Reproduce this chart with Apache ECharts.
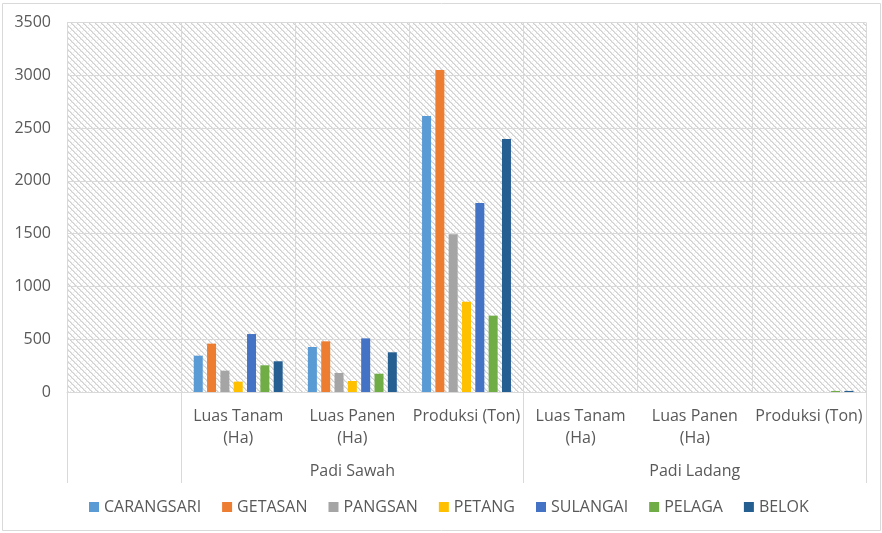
<!DOCTYPE html>
<html>
<head>
<meta charset="utf-8">
<script src="https://cdn.jsdelivr.net/npm/echarts@6/dist/echarts.min.js"></script>
<style>
  html, body { margin: 0; padding: 0; background: #fff; }
  #chart { width: 882px; height: 533px; }
</style>
</head>
<body>
<div id="chart"></div>
<script>
const categories = ["", "Luas Tanam\n(Ha)", "Luas Panen\n(Ha)", "Produksi (Ton)", "Luas Tanam\n(Ha)", "Luas Panen\n(Ha)", "Produksi (Ton)"];
const groups = ["Padi Sawah", "Padi Ladang"];
const groupCenters = [2.5, 5.5];
const groupBounds = [0, 1, 4, 7];

const villages = ["CARANGSARI", "GETASAN", "PANGSAN", "PETANG", "SULANGAI", "PELAGA", "BELOK"];
const colors = ["#5B9BD5", "#ED7D31", "#A5A5A5", "#FFC000", "#4472C4", "#70AD47", "#255E91"];

const carangsari = [null, 344, 426, 2614, 0, 0, 0];
const getasan    = [null, 458, 480, 3050, 0, 0, 0];
const pangsan    = [null, 202, 180, 1494, 0, 0, 0];
const petang     = [null, 98, 104, 855, 0, 0, 0];
const sulangai   = [null, 549, 508, 1790, 0, 0, 0];
const pelaga     = [null, 253, 173, 723, 0, 0, 10];
const belok      = [null, 291, 376, 2396, 0, 0, 10];
const values = [carangsari, getasan, pangsan, petang, sulangai, pelaga, belok];

const yTicks = [0, 500, 1000, 1500, 2000, 2500, 3000, 3500];

const textColor = "#595959";
const lineColor = "#d9d9d9";
const font = "Open Sans";

// hatched plot background, like the excel pattern fill
function hatch() {
  const c = document.createElement("canvas");
  c.width = 6;
  c.height = 6;
  const ctx = c.getContext("2d");
  ctx.fillStyle = "#ffffff";
  ctx.fillRect(0, 0, 6, 6);
  for (let i = 0; i < 6; i++) {
    ctx.fillStyle = "#cfcfcf";
    ctx.fillRect(i, i, 1, 1);
    ctx.fillStyle = "#e2e2e2";
    ctx.fillRect((i + 1) % 6, i, 1, 1);
    ctx.fillStyle = "#ececec";
    ctx.fillRect(5 - i, i, 1, 1);
  }
  return c;
}

const chart = echarts.init(document.getElementById("chart"), null, { renderer: "canvas" });

chart.setOption({
  animation: false,
  textStyle: { fontFamily: font },
  graphic: [{
    type: "rect",
    shape: { x: 2.5, y: 3.5, width: 878, height: 527 },
    style: { fill: "none", stroke: lineColor, lineWidth: 1 },
    silent: true,
    z: -10
  }],
  grid: {
    left: 67, right: 16, top: 22.5, bottom: 141,
    show: true,
    borderWidth: 0,
    backgroundColor: { image: hatch(), repeat: "repeat" }
  },
  legend: {
    bottom: 13,
    left: 84,
    itemWidth: 10,
    itemHeight: 10,
    itemGap: 21,
    icon: "rect",
    textStyle: { color: textColor, fontSize: 16, fontFamily: font },
    data: villages
  },
  xAxis: [
    {
      type: "category",
      data: categories,
      axisLine: { lineStyle: { color: lineColor } },
      axisTick: { show: false },
      splitLine: { show: true, interval: 0, lineStyle: { color: lineColor } },
      axisLabel: {
        interval: 0,
        color: textColor,
        fontSize: 16,
        lineHeight: 22,
        margin: 13
      }
    },
    {
      type: "value",
      position: "bottom",
      min: 0,
      max: 7,
      axisLine: { show: false },
      splitLine: { show: false },
      axisTick: {
        show: true,
        customValues: groupBounds,
        length: 91,
        lineStyle: { color: lineColor }
      },
      axisLabel: {
        customValues: groupCenters,
        formatter: (v) => groups[groupCenters.indexOf(v)] ?? "",
        color: textColor,
        fontSize: 16,
        margin: 71
      }
    }
  ],
  yAxis: {
    type: "value",
    min: 0,
    max: yTicks[yTicks.length - 1],
    interval: 500,
    axisLine: { show: false },
    axisTick: { show: false },
    splitLine: { lineStyle: { color: lineColor } },
    axisLabel: { color: textColor, fontSize: 16, margin: 16, formatter: (v) => String(v) }
  },
  series: villages.map((name, i) => ({
    type: "bar",
    name,
    xAxisIndex: 0,
    data: values[i],
    barWidth: 9,
    barGap: "48%",
    itemStyle: { color: colors[i] }
  }))
});
</script>
</body>
</html>
